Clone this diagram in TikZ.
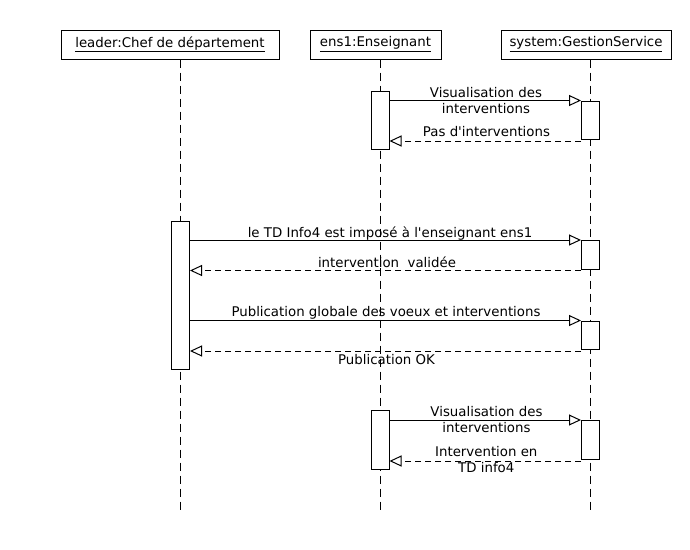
\documentclass[tikz,border=0pt]{standalone}
\usepackage{fontspec}
\newfontfamily\labelfont{DejaVu Sans}
\usetikzlibrary{arrows.meta,calc}
\begin{document}
\begin{tikzpicture}[x=0.75pt,y=-0.75pt,
  font=\labelfont\fontsize{10pt}{12pt}\selectfont,
  head/.style={draw, line width=0.75pt, inner sep=0pt, minimum height={29*0.75pt}},
  life/.style={line width=0.75pt, dash pattern=on 6pt off 3.75pt},
  act/.style={draw, fill=white, line width=0.75pt, inner sep=0pt, minimum width=13.5pt, anchor=north},
  call/.style={line width=0.75pt, -{Triangle[open,length=9pt,width=8.25pt]}},
  ret/.style={call, dash pattern=on 4.5pt off 3pt},
  lbl/.style={inner sep=0pt, align=center}]

\useasboundingbox (0,0) rectangle (690,550);

% heads
\node[head, minimum width={218*0.75pt}] (leader) at (170,44.5) {\underline{leader:Chef de département}};
\node[head, minimum width={131*0.75pt}] (ens) at (375.5,44.5) {\underline{ens1:Enseignant}};
\node[head, minimum width={170*0.75pt}] (sys) at (586,44.5) {\underline{system:GestionService}};

% lifelines
\coordinate (lend) at (180.5,511);
\coordinate (eend) at (380,511);
\coordinate (send) at (590.5,511);
\draw[life] (lend |- leader.south) -- (lend);
\draw[life] (eend |- ens.south) -- (eend);
\draw[life] (send |- sys.south) -- (send);

% activations
\node[act, minimum height={58*0.75pt}] (eA1) at (380,91) {};
\node[act, minimum height={38.5*0.75pt}] (sA1) at (590.5,100.5) {};
\node[act, minimum height={148*0.75pt}] (lA) at (180.5,220.5) {};
\node[act, minimum height={28.5*0.75pt}] (sA2) at (590.5,240) {};
\node[act, minimum height={28.5*0.75pt}] (sA3) at (590.5,320.5) {};
\node[act, minimum height={59*0.75pt}] (eA3) at (380,410) {};
\node[act, minimum height={39*0.75pt}] (sA4) at (590.5,420) {};

% messages
\draw[call] (eA1.east |- sA1.north) -- (sA1.north west);
\draw[ret] ($(sA1.south west)+(0,1)$) -- ($(eA1.east |- sA1.south)+(0,1)$);
\draw[call] (lA.east |- sA2.north) -- (sA2.north west);
\draw[ret] ($(sA2.south west)+(0,1)$) -- ($(lA.east |- sA2.south)+(0,1)$);
\draw[call] (lA.east |- sA3.north) -- (sA3.north west);
\draw[ret] ($(sA3.south west)+(0,1)$) -- ($(lA.east |- sA3.south)+(0,1)$);
\draw[call] (eA3.east |- sA4.north) -- (sA4.north west);
\draw[ret] ($(sA4.south west)+(0,1)$) -- ($(eA3.east |- sA4.south)+(0,1)$);

% labels
\node[lbl] (m1) at (486,100.2) {Visualisation des\\interventions};
\node[lbl, anchor=base] (r1) at (486.5,136.7) {Pas d'interventions};
\node[lbl, anchor=base] (m2) at (390,237.3) {le TD Info4 est imposé à l'enseignant ens1};
\node[lbl, anchor=base] (r2) at (387,267.3) {intervention\ \ validée};
\node[lbl, anchor=base] (m3) at (386,316) {Publication globale des voeux et interventions};
\node[lbl, anchor=base] (r3) at (386.5,364) {Publication OK};
\node[lbl] (m4) at (486.5,420) {Visualisation des\\interventions};
\node[lbl] (r4) at (486.3,460) {Intervention en\\TD info4};
\end{tikzpicture}
\end{document}
